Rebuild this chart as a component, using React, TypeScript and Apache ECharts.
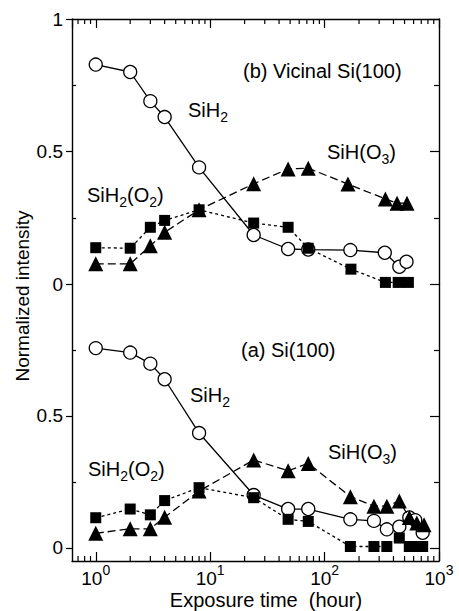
import React, { useEffect, useRef } from 'react';
import * as echarts from 'echarts';

const FONT = '"Liberation Sans", Arial, Helvetica, sans-serif';

// ---- (b) Vicinal Si(100) : exposure time (hour) / normalized intensity ----
const vicSiH2T = [1, 2, 3, 4, 8, 24, 48, 72, 168, 336, 450, 520];
const vicSiH2V = [0.828, 0.8, 0.69, 0.63, 0.44, 0.185, 0.132, 0.13, 0.128, 0.118, 0.065, 0.084];
const vicSiH2O2T = [1, 2, 3, 4, 8, 24, 48, 72, 170, 340, 440, 540];
const vicSiH2O2V = [0.137, 0.135, 0.214, 0.24, 0.28, 0.23, 0.214, 0.135, 0.056, 0.006, 0.006, 0.006];
const vicSiHO3T = [1, 2, 3, 4, 8, 24, 48, 72, 160, 340, 430, 525];
const vicSiHO3V = [0.076, 0.076, 0.144, 0.195, 0.28, 0.378, 0.434, 0.437, 0.377, 0.321, 0.305, 0.305];

// ---- (a) Si(100) ----
const siSiH2T = [1, 2, 3, 4, 8, 24, 48, 72, 168, 270, 350, 450, 550, 620, 720];
const siSiH2V = [0.757, 0.74, 0.698, 0.639, 0.435, 0.2, 0.147, 0.147, 0.108, 0.102, 0.07, 0.08, 0.115, 0.105, 0.057];
const siSiH2O2T = [1, 2, 3, 4, 8, 24, 48, 72, 168, 270, 350, 450, 550, 620, 720];
const siSiH2O2V = [0.114, 0.147, 0.125, 0.179, 0.228, 0.19, 0.108, 0.1, 0.005, 0.005, 0.005, 0.037, 0.005, 0.005, 0.005];
const siSiHO3T = [1, 2, 3, 4, 8, 24, 48, 72, 168, 270, 350, 450, 550, 640, 740];
const siSiHO3V = [0.055, 0.072, 0.072, 0.116, 0.215, 0.333, 0.292, 0.32, 0.194, 0.158, 0.158, 0.177, 0.115, 0.094, 0.087];

// ---- ticks ----
const xMinorTicks = [0.7, 0.8, 0.9, 2, 3, 4, 5, 6, 7, 8, 9, 20, 30, 40, 50, 60, 70, 80, 90, 200, 300, 400, 500, 600, 700, 800, 900];
const yLabelsTop = [0, 0.5, 1];
const yLabelsBottom = [0, 0.5];
const yMajorTop = [0, 0.5, 1];
const yMajorBottom = [0, 0.5];
const yMinor = [0.25, 0.75];

const zip = (t: number[], v: number[]) => t.map((x, i) => [x, v[i]]);

const BLACK = '#000';
const FRAME_W = 1.4;

function yAxesFor(gridIndex: number, min: number, labels: number[], major: number[]) {
  const base: any = {
    type: 'value',
    gridIndex,
    min,
    max: 1,
    splitLine: { show: false },
    axisLabel: { show: false },
  };
  return [
    {
      ...base,
      position: 'left',
      axisLine: { show: true, onZero: false, lineStyle: { color: BLACK, width: FRAME_W } },
      axisTick: { show: true, inside: false, length: 6, customValues: major, lineStyle: { color: BLACK, width: 1.2 } },
      axisLabel: {
        show: true,
        customValues: labels,
        margin: 9,
        color: BLACK,
        fontSize: 19,
        fontFamily: FONT,
        formatter: (v: number) => (v === 0 ? '0' : String(v)),
      },
    },
    {
      ...base,
      position: 'left',
      axisLine: { show: false, onZero: false },
      axisTick: { show: true, inside: true, length: 4, customValues: yMinor, lineStyle: { color: BLACK, width: 1.2 } },
    },
    {
      ...base,
      position: 'right',
      axisLine: { show: true, onZero: false, lineStyle: { color: BLACK, width: FRAME_W } },
      axisTick: { show: true, inside: true, length: 9, customValues: major, lineStyle: { color: BLACK, width: 1.2 } },
    },
    {
      ...base,
      position: 'right',
      axisLine: { show: false, onZero: false },
      axisTick: { show: true, inside: true, length: 5, customValues: yMinor, lineStyle: { color: BLACK, width: 1.2 } },
    },
  ];
}

const xCommon: any = {
  type: 'log',
  logBase: 10,
  min: 0.62,
  max: 1000,
  splitLine: { show: false },
  minorTick: { show: false },
  axisLine: { show: true, onZero: false, lineStyle: { color: BLACK, width: FRAME_W } },
  axisTick: { show: true, inside: true, length: 9, lineStyle: { color: BLACK, width: 1.2 } },
};

const logLabel = (v: number) => {
  const l = Math.log10(v);
  const e = Math.round(l);
  if (Math.abs(l - e) > 0.01) return '';
  return `{b|10}{s|${e}}`;
};

function seriesFor(kind: 'circle' | 'square' | 'tri', data: number[][], xi: number, yi: number, name: string) {
  const common: any = {
    type: 'line',
    name,
    data,
    xAxisIndex: xi,
    yAxisIndex: yi,
    clip: false,
    silent: true,
  };
  if (kind === 'circle') {
    return {
      ...common,
      symbol: 'circle',
      symbolSize: 13,
      itemStyle: { color: '#fff', borderColor: BLACK, borderWidth: 1.3 },
      lineStyle: { color: BLACK, width: 1.3, type: 'solid' },
      z: 2,
    };
  }
  if (kind === 'square') {
    return {
      ...common,
      symbol: 'rect',
      symbolSize: 11,
      itemStyle: { color: BLACK, borderWidth: 0 },
      lineStyle: { color: BLACK, width: 1.3, type: [3, 3] },
      z: 3,
    };
  }
  return {
    ...common,
    symbol: 'triangle',
    symbolSize: 15,
    itemStyle: { color: BLACK, borderWidth: 0 },
    lineStyle: { color: BLACK, width: 1.3, type: [8, 4] },
    z: 4,
  };
}

function minorTickSeries(xi: number, yi: number, atTop: boolean) {
  return {
    type: 'custom',
    xAxisIndex: xi,
    yAxisIndex: yi,
    silent: true,
    clip: false,
    data: xMinorTicks.map((v) => [v, 0.5]),
    renderItem: (params: any, api: any) => {
      const cs = params.coordSys;
      const p = api.coord([api.value(0), api.value(1)]);
      const y0 = atTop ? cs.y : cs.y + cs.height;
      const y1 = atTop ? y0 + 5 : y0 - 5;
      return {
        type: 'line',
        shape: { x1: p[0], y1: y0, x2: p[0], y2: y1 },
        style: { stroke: BLACK, lineWidth: 1.2 },
      };
    },
  };
}

const mainRich = {
  m: { fontSize: 20, fontFamily: FONT, fill: BLACK, lineHeight: 28 },
  s: { fontSize: 14, fontFamily: FONT, fill: BLACK, verticalAlign: 'bottom' },
};

function label(text: string, x: number, y: number) {
  return {
    type: 'text',
    x,
    y,
    silent: true,
    style: {
      text,
      rich: mainRich,
      fill: BLACK,
      fontSize: 20,
      fontFamily: FONT,
      align: 'left',
      verticalAlign: 'middle',
      textAlign: 'left',
      textVerticalAlign: 'middle',
    },
  };
}

function buildOption(): any {
  return {
    animation: false,
    backgroundColor: '#fff',
    textStyle: { fontFamily: FONT, color: BLACK },
    grid: [
      { left: 72, top: 19, width: 367, height: 265, containLabel: false, outerBoundsMode: 'none' },
      { left: 72, top: 284, width: 367, height: 277, containLabel: false, outerBoundsMode: 'none' },
    ],
    xAxis: [
      { ...xCommon, gridIndex: 0, position: 'top', axisLabel: { show: false } },
      {
        ...xCommon,
        gridIndex: 1,
        position: 'bottom',
        axisLabel: {
          show: true,
          showMinLabel: false,
          margin: 2,
          color: BLACK,
          fontFamily: FONT,
          formatter: logLabel,
          rich: {
            b: { fontSize: 19, fontFamily: FONT, color: BLACK, lineHeight: 30 },
            s: { fontSize: 14, fontFamily: FONT, color: BLACK, verticalAlign: 'top' },
          },
        },
      },
    ],
    yAxis: [
      ...yAxesFor(0, 0, yLabelsTop, yMajorTop),
      ...yAxesFor(1, -0.05, yLabelsBottom, yMajorBottom),
    ],
    series: [
      seriesFor('circle', zip(vicSiH2T, vicSiH2V), 0, 0, 'SiH2 (b)'),
      seriesFor('square', zip(vicSiH2O2T, vicSiH2O2V), 0, 0, 'SiH2(O2) (b)'),
      seriesFor('tri', zip(vicSiHO3T, vicSiHO3V), 0, 0, 'SiH(O3) (b)'),
      seriesFor('circle', zip(siSiH2T, siSiH2V), 1, 4, 'SiH2 (a)'),
      seriesFor('square', zip(siSiH2O2T, siSiH2O2V), 1, 4, 'SiH2(O2) (a)'),
      seriesFor('tri', zip(siSiHO3T, siSiHO3V), 1, 4, 'SiH(O3) (a)'),
      minorTickSeries(0, 0, true),
      minorTickSeries(1, 4, false),
    ],
    graphic: [
      label('{m|(b) Vicinal Si(100)}', 243, 71),
      label('{m|SiH}{s|2}', 188, 110),
      label('{m|SiH(O}{s|3}{m|)}', 327, 152),
      label('{m|SiH}{s|2}{m|(O}{s|2}{m|)}', 87, 195),
      label('{m|(a) Si(100)}', 241, 350),
      label('{m|SiH}{s|2}', 190, 395),
      label('{m|SiH(O}{s|3}{m|)}', 328, 452),
      label('{m|SiH}{s|2}{m|(O}{s|2}{m|)}', 88, 469),
      {
        type: 'text',
        x: 22,
        y: 296,
        rotation: Math.PI / 2,
        silent: true,
        style: {
          text: 'Normalized intensity',
          fill: BLACK,
          fontSize: 19,
          fontFamily: FONT,
          align: 'center',
          verticalAlign: 'middle',
          textAlign: 'center',
          textVerticalAlign: 'middle',
        },
      },
      {
        type: 'text',
        x: 266,
        y: 600,
        silent: true,
        style: {
          text: 'Exposure time  (hour)',
          fill: BLACK,
          fontSize: 20,
          fontFamily: FONT,
          align: 'center',
          verticalAlign: 'middle',
          textAlign: 'center',
          textVerticalAlign: 'middle',
        },
      },
    ],
  };
}

export default function App() {
  const ref = useRef<HTMLDivElement>(null);
  useEffect(() => {
    if (!ref.current) return;
    const chart = echarts.init(ref.current, null, { renderer: 'svg' });
    chart.setOption(buildOption());
    return () => {
      chart.dispose();
    };
  }, []);
  return (
    <div
      ref={ref}
      style={{ position: 'absolute', left: 0, top: 0, width: 459, height: 611, background: '#fff' }}
    />
  );
}
